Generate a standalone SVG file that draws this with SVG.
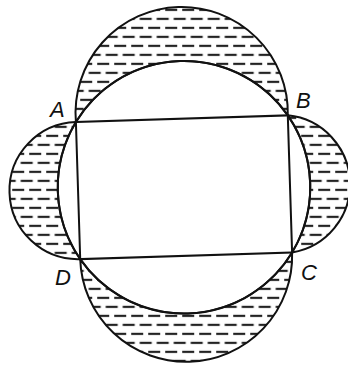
<svg xmlns="http://www.w3.org/2000/svg" width="348" height="366" viewBox="0 0 348 366">
<style>
.ln{fill:none;stroke:#111;stroke-width:2}
.lune{fill:url(#hatch);stroke:#111;stroke-width:2;stroke-linejoin:round}
.lbl{font-family:"Liberation Sans",Arial,sans-serif;font-style:italic;font-size:22px;fill:#111}
</style>
<defs>
<pattern id="hatch" patternUnits="userSpaceOnUse" width="17" height="18" patternTransform="rotate(1.8)">
<rect width="17" height="18" fill="#fff"/>
<line x1="1" y1="4" x2="13" y2="4" stroke="#222" stroke-width="2.2"/>
<line x1="9.5" y1="13" x2="17" y2="13" stroke="#222" stroke-width="2.2"/>
<line x1="0" y1="13" x2="4.5" y2="13" stroke="#222" stroke-width="2.2"/>
</pattern>
</defs>
<rect width="348" height="366" fill="#fff"/>
<g transform="rotate(-1.8 184 187.25)">
<g id="lunes">
<path id="lune-top" class="lune" d="M78,118.65 A106.15,106.15 0 1 1 290,118.65 A126.26,126.26 0 0 0 78,118.65 Z"/>
<path id="lune-right" class="lune" d="M290,118.65 A69.2,69.2 0 0 1 290,255.85 A126.26,126.26 0 0 0 290,118.65 Z"/>
<path id="lune-bottom" class="lune" d="M290,255.85 A106,106 0 0 1 78,255.85 A126.26,126.26 0 0 0 290,255.85 Z"/>
<path id="lune-left" class="lune" d="M78,255.85 A68.6,68.6 0 0 1 78,118.65 A126.26,126.26 0 0 0 78,255.85 Z"/>
</g>
<g id="circle"><circle class="ln" cx="184" cy="187.25" r="126.26"/></g>
<g id="rectangle"><rect class="ln" x="78" y="118.65" width="212" height="137.2"/></g>
</g>
<g id="labels">
<text class="lbl" x="50" y="117">A</text>
<text class="lbl" x="296" y="108">B</text>
<text class="lbl" x="301" y="280">C</text>
<text class="lbl" x="55" y="285">D</text>
</g>
</svg>
